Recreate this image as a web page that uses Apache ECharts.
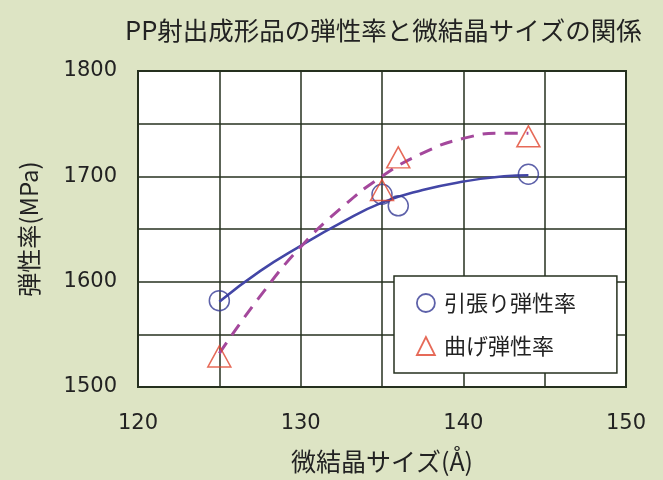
<!DOCTYPE html>
<html><head><meta charset="utf-8">
<script src="https://cdn.jsdelivr.net/npm/echarts@6/dist/echarts.min.js"></script>
<style>html,body{margin:0;padding:0;background:#dde4c4;}#c{width:663px;height:480px;}</style>
</head><body><div id="c"></div>
<script>
const titleText = 'PP射出成形品の弾性率と微結晶サイズの関係';
const xName = '微結晶サイズ(Å)';
const yName = '弾性率(MPa)';
const seriesNames = ['引張り弾性率', '曲げ弾性率'];
// measured points [crystallite size, modulus]
const tensileX = [125, 135, 136, 144];
const tensileY = [1582, 1683, 1672, 1702];
const flexX = [125, 135, 136, 144];
const flexY = [1529, 1687, 1718, 1738];
// trend curves
const trendX = [125, 127.5, 130, 132.5, 135, 137.5, 140, 142.5, 144];
const tensileTrend = [1581, 1610, 1634, 1656, 1675, 1687, 1695, 1700, 1701];
const flexTrend = [1532, 1586, 1633, 1670, 1700, 1722, 1736, 1741, 1741];

const zip = (a, b) => a.map((v, i) => [v, b[i]]);
const num = '"DejaVu Sans", sans-serif';
const cjk = '"Noto Sans CJK JP", sans-serif';
const blue = '#343a94', red = '#e0452e';
const chart = echarts.init(document.getElementById('c'));
chart.setOption({
  backgroundColor: '#dde4c4',
  animation: false,
  title: {
    text: titleText, left: 120, top: 13,
    textStyle: { fontFamily: cjk, fontSize: 25.5, fontWeight: 'normal', color: '#222' }
  },
  grid: { left: 138, top: 71, right: 37, bottom: 93, show: true, backgroundColor: '#ffffff', borderColor: '#26301f', borderWidth: 2 },
  xAxis: {
    type: 'value', min: 120, max: 150, interval: 5,
    name: xName, nameLocation: 'middle', nameGap: 62,
    nameTextStyle: { fontFamily: cjk, fontSize: 25, color: '#222' },
    axisLine: { show: false }, axisTick: { show: false },
    axisLabel: { margin: 26, fontFamily: num, fontSize: 21, color: '#222',
      formatter: v => (v % 10 === 0 ? String(v) : '') },
    splitLine: { show: true, lineStyle: { color: '#26301f', width: 1.5 } }
  },
  yAxis: {
    type: 'value', min: 1500, max: 1800, interval: 50,
    name: yName, nameLocation: 'middle', nameGap: 97, nameRotate: 90,
    nameTextStyle: { fontFamily: cjk, fontSize: 24, color: '#222' },
    axisLine: { show: false }, axisTick: { show: false },
    axisLabel: { margin: 21, fontFamily: num, fontSize: 21, color: '#222',
      formatter: v => (v % 100 === 0 ? String(v) : '') },
    splitLine: { show: true, lineStyle: { color: '#26301f', width: 1.5 } }
  },
  legend: {
    orient: 'vertical', left: 394, top: 276,
    padding: [16, 41, 16, 22], itemGap: 21, itemWidth: 18, itemHeight: 18,
    backgroundColor: '#ffffff', borderColor: '#26301f', borderWidth: 1.5,
    textStyle: { fontFamily: cjk, fontSize: 22, color: '#222', padding: [0, 0, 0, 4] },
    data: [
      { name: seriesNames[0], icon: 'circle',
        itemStyle: { color: 'rgba(0,0,0,0)', borderColor: blue, borderWidth: 1.8 } },
      { name: seriesNames[1], icon: 'triangle',
        itemStyle: { color: 'rgba(0,0,0,0)', borderColor: red, borderWidth: 1.8 } }
    ]
  },
  series: [
    { name: 'trend1', type: 'line', smooth: true, showSymbol: false, data: zip(trendX, tensileTrend),
      lineStyle: { color: '#4346a6', width: 2.5 }, z: 2 },
    { name: 'trend2', type: 'line', smooth: true, showSymbol: false, data: zip(trendX, flexTrend),
      lineStyle: { color: '#a4489c', width: 3, type: [13, 9] }, z: 2 },
    { name: seriesNames[0], type: 'scatter', symbol: 'circle', symbolSize: 20, data: zip(tensileX, tensileY),
      itemStyle: { color: 'rgba(0,0,0,0)', borderColor: blue, borderWidth: 1.5 }, z: 3 },
    { name: seriesNames[1], type: 'scatter', symbol: 'triangle', symbolSize: [23, 21], data: zip(flexX, flexY),
      itemStyle: { color: 'rgba(0,0,0,0)', borderColor: red, borderWidth: 1.5 }, z: 3 }
  ]
});
</script></body></html>
